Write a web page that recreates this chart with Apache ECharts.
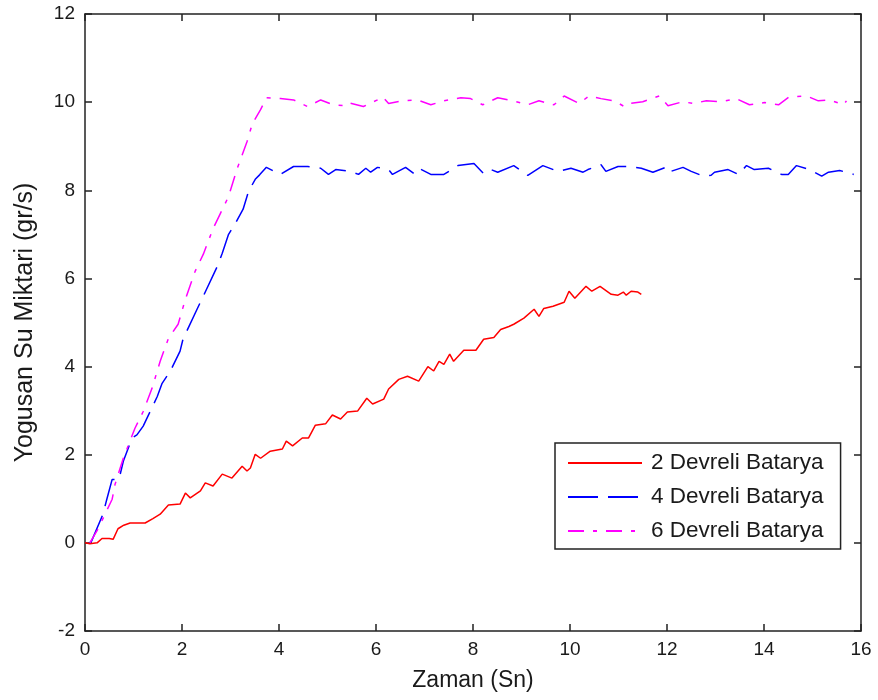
<!DOCTYPE html>
<html>
<head>
<meta charset="utf-8">
<script src="https://cdn.jsdelivr.net/npm/echarts@6/dist/echarts.min.js"></script>
<style>
html,body{margin:0;padding:0;background:#fff;}
#chart{width:878px;height:700px;}
</style>
</head>
<body>
<div id="chart"></div>
<script>
// ---- data ----
var seriesNames = ['2 Devreli Batarya', '4 Devreli Batarya', '6 Devreli Batarya'];
var xTicks = [0, 2, 4, 6, 8, 10, 12, 14, 16];
var yTicks = [-2, 0, 2, 4, 6, 8, 10, 12];

var redX = [0, 0.1, 0.25, 0.35, 0.5, 0.58, 0.68, 0.8, 0.93, 1.24, 1.4, 1.55, 1.72, 1.96, 2.07, 2.17, 2.38, 2.48, 2.64, 2.83, 3.03, 3.24, 3.34, 3.41, 3.51, 3.62, 3.82, 4.07, 4.15, 4.28, 4.48, 4.61, 4.75, 4.96, 5.10, 5.27, 5.41, 5.62, 5.81, 5.93, 6.16, 6.26, 6.47, 6.65, 6.88, 7.07, 7.19, 7.3, 7.4, 7.52, 7.6, 7.81, 8.06, 8.22, 8.43, 8.57, 8.74, 8.84, 9.05, 9.26, 9.36, 9.46, 9.65, 9.88, 9.98, 10.1, 10.33, 10.45, 10.62, 10.85, 10.99, 11.1, 11.16, 11.26, 11.4, 11.47];
var redY = [0, -0.02, 0.0, 0.1, 0.1, 0.08, 0.32, 0.4, 0.45, 0.45, 0.55, 0.65, 0.86, 0.88, 1.13, 1.02, 1.18, 1.36, 1.29, 1.56, 1.47, 1.74, 1.63, 1.70, 2.01, 1.92, 2.08, 2.13, 2.31, 2.2, 2.38, 2.38, 2.67, 2.70, 2.90, 2.81, 2.97, 2.99, 3.28, 3.15, 3.26, 3.49, 3.71, 3.78, 3.67, 4.0, 3.9, 4.12, 4.05, 4.28, 4.12, 4.37, 4.37, 4.62, 4.66, 4.84, 4.91, 4.96, 5.1, 5.3, 5.14, 5.32, 5.37, 5.46, 5.71, 5.55, 5.82, 5.71, 5.82, 5.64, 5.62, 5.69, 5.62, 5.71, 5.69, 5.64];

var blueX = [0.1, 0.14, 0.37, 0.45, 0.56, 0.7, 0.79, 0.97, 1.07, 1.2, 1.49, 1.59, 1.76, 1.96, 2.02, 2.31, 2.44, 2.73, 2.83, 2.96, 3.1, 3.26, 3.37, 3.51, 3.6, 3.74, 4.03, 4.3, 4.59, 4.86, 5.02, 5.17, 5.48, 5.64, 5.79, 5.89, 6.03, 6.26, 6.34, 6.61, 6.78, 6.88, 7.13, 7.4, 7.69, 8.02, 8.22, 8.37, 8.51, 8.84, 9.13, 9.44, 9.75, 10.02, 10.27, 10.37, 10.64, 10.74, 10.99, 11.22, 11.47, 11.71, 12.02, 12.08, 12.33, 12.5, 12.75, 12.91, 12.98, 13.26, 13.47, 13.64, 13.8, 14.09, 14.36, 14.5, 14.67, 14.94, 15.19, 15.33, 15.56, 15.85];
var blueY = [0, 0.05, 0.65, 0.99, 1.44, 1.44, 1.85, 2.38, 2.45, 2.65, 3.32, 3.62, 3.9, 4.35, 4.62, 5.3, 5.6, 6.28, 6.57, 7.0, 7.25, 7.57, 7.97, 8.25, 8.35, 8.52, 8.36, 8.54, 8.54, 8.5, 8.36, 8.47, 8.43, 8.36, 8.5, 8.41, 8.52, 8.47, 8.36, 8.52, 8.38, 8.5, 8.36, 8.36, 8.56, 8.61, 8.38, 8.47, 8.41, 8.56, 8.34, 8.56, 8.43, 8.5, 8.41, 8.47, 8.58, 8.43, 8.54, 8.54, 8.5, 8.41, 8.54, 8.43, 8.52, 8.43, 8.32, 8.34, 8.41, 8.47, 8.36, 8.56, 8.47, 8.5, 8.36, 8.36, 8.56, 8.47, 8.32, 8.41, 8.45, 8.36];

var magX = [0.1, 0.27, 0.56, 0.62, 0.79, 1.03, 1.2, 1.38, 1.55, 1.72, 1.92, 2.07, 2.27, 2.44, 2.64, 2.79, 2.96, 3.14, 3.34, 3.45, 3.62, 3.74, 4.03, 4.3, 4.59, 4.86, 5.12, 5.33, 5.43, 5.74, 6.03, 6.14, 6.26, 6.55, 6.86, 7.13, 7.4, 7.75, 7.95, 8.2, 8.51, 8.82, 9.13, 9.36, 9.67, 9.88, 10.19, 10.39, 10.64, 10.91, 11.12, 11.22, 11.5, 11.84, 12.02, 12.33, 12.54, 12.81, 13.12, 13.43, 13.7, 14.01, 14.3, 14.52, 14.88, 15.12, 15.35, 15.64, 15.7];
var magY = [0, 0.32, 0.99, 1.33, 1.92, 2.6, 2.98, 3.5, 4.12, 4.64, 4.96, 5.53, 6.16, 6.55, 7.13, 7.47, 7.86, 8.5, 9.1, 9.51, 9.83, 10.1, 10.08, 10.05, 9.9, 10.05, 9.94, 9.92, 9.99, 9.9, 10.05, 10.12, 9.97, 10.03, 10.05, 9.94, 10.03, 10.1, 10.08, 9.94, 10.1, 10.03, 9.94, 10.03, 9.94, 10.14, 9.97, 10.14, 10.08, 10.03, 9.9, 9.97, 10.01, 10.14, 9.92, 10.01, 9.97, 10.03, 10.01, 10.08, 9.94, 9.99, 9.94, 10.12, 10.14, 10.03, 10.05, 9.94, 10.03];

function zip(xs, ys) { return xs.map(function (x, i) { return [x, ys[i]]; }); }

var FONT = '"Liberation Sans", Arial, sans-serif';
var INK = '#1a1a1a';

var chart = echarts.init(document.getElementById('chart'), null, { renderer: 'canvas' });

function xAxisDef(pos, showLabel, name) {
  return {
    type: 'value', position: pos, min: xTicks[0], max: xTicks[xTicks.length - 1], interval: 2,
    name: name || '', nameLocation: 'middle', nameGap: 38,
    nameTextStyle: { fontFamily: FONT, fontSize: 23, color: INK },
    axisLine: { show: true, onZero: false, lineStyle: { color: '#222', width: 1.5 } },
    axisTick: { show: true, inside: true, length: 7, lineStyle: { color: '#222', width: 1.5 } },
    axisLabel: { show: showLabel, margin: 9, fontFamily: FONT, fontSize: 19, color: INK },
    splitLine: { show: false }
  };
}
function yAxisDef(pos, showLabel, name) {
  return {
    type: 'value', position: pos, min: yTicks[0], max: yTicks[yTicks.length - 1], interval: 2,
    name: name || '', nameLocation: 'middle', nameGap: 47,
    nameTextStyle: { fontFamily: FONT, fontSize: 25, color: INK },
    axisLine: { show: true, onZero: false, lineStyle: { color: '#222', width: 1.5 } },
    axisTick: { show: true, inside: true, length: 7, lineStyle: { color: '#222', width: 1.5 } },
    axisLabel: { show: showLabel, margin: 10, fontFamily: FONT, fontSize: 19, color: INK },
    splitLine: { show: false }
  };
}

var option = {
  backgroundColor: '#ffffff',
  animation: false,
  grid: { left: 85, right: 17, top: 14, bottom: 69, containLabel: false },
  legend: {
    orient: 'vertical', left: 555, top: 443,
    padding: [7, 17, 5, 12], itemGap: 8,
    itemWidth: 74, itemHeight: 14,
    backgroundColor: '#fff', borderColor: '#222', borderWidth: 1.5,
    itemStyle: { color: 'transparent', borderColor: 'transparent', borderWidth: 0, opacity: 0 },
    textStyle: { fontFamily: FONT, fontSize: 22.5, color: INK, lineHeight: 26, padding: [0, 0, 0, 4] },
    data: seriesNames
  },
  xAxis: [xAxisDef('bottom', true, 'Zaman (Sn)'), xAxisDef('top', false)],
  yAxis: [yAxisDef('left', true, 'Yogusan Su Miktari (gr/s)'), yAxisDef('right', false)],
  series: [
    { name: seriesNames[0], type: 'line', data: zip(redX, redY), symbol: 'none', color: '#ff0000',
      lineStyle: { color: '#ff0000', width: 1.5, type: 'solid' } },
    { name: seriesNames[1], type: 'line', data: zip(blueX, blueY), symbol: 'none', color: '#0000ff',
      lineStyle: { color: '#0000ff', width: 1.5, type: [30, 10] } },
    { name: seriesNames[2], type: 'line', data: zip(magX, magY), symbol: 'none', color: '#ff00ff',
      lineStyle: { color: '#ff00ff', width: 1.5, type: [16, 9, 4, 9] } }
  ]
};
chart.setOption(option);
</script>
</body>
</html>
